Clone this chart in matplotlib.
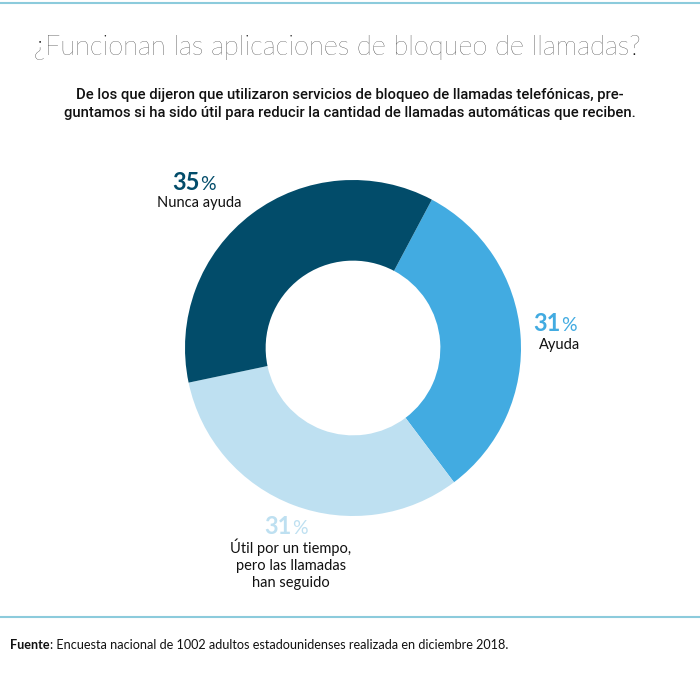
import matplotlib.pyplot as plt
from matplotlib.lines import Line2D

# ================= DATA ===================
labels = ["Ayuda", "Útil por un tiempo,\npero las llamadas\nhan seguido", "Nunca ayuda"]
values = [31, 31, 35]
colors = ["#42abe1", "#bee0f1", "#024c6a"]

title = "¿Funcionan las aplicaciones de bloqueo de llamadas?"
subtitle = ("De los que dijeron que utilizaron servicios de bloqueo de llamadas telefónicas, pre-\n"
            "guntamos si ha sido útil para reducir la cantidad de llamadas automáticas que reciben.")
source = "Encuesta nacional de 1002 adultos estadounidenses realizada en diciembre 2018."

W, H = 700, 677
fig = plt.figure(figsize=(W / 100, H / 100), dpi=100)

def px(x, y):
    return x / W, 1 - y / H

# ================= DONUT ===================
cx, cy, r = 353, 348, 168
ax = fig.add_axes([(cx - r) / W, (H - cy - r) / H, 2 * r / W, 2 * r / H])
ax.pie(values, colors=colors, startangle=62, counterclock=False,
       wedgeprops=dict(width=0.48, edgecolor="none"))
ax.set_xlim(-1, 1)
ax.set_ylim(-1, 1)
ax.set_aspect("equal")
ax.axis("off")

# ================= TEXT ===================
fig.text(*px(337, 47), title, ha="center", va="center", fontsize=19.6,
         family="Lato", fontweight="light", color="#111111")
fig.text(*px(350, 104), subtitle, ha="center", va="center", fontsize=10.6,
         family="Roboto", fontweight="medium", color="#111111", linespacing=1.45)

label_pos = [(560, 324, 346), (291, 527, 546), (199, 183, 204)]
for lab, val, col, (x, yn, yl) in zip(labels, values, colors, label_pos):
    fig.text(*px(x + 1, yn), f"{val}", ha="right", va="center", fontsize=17,
             family="Lato", fontweight="bold", color=col)
    fig.text(*px(x + 1, yn + 1), "%", ha="left", va="center", fontsize=14,
             family="Lato", color=col)
    fig.text(*px(x, yl - 8), lab, ha="center", va="top", fontsize=10.5,
             family="Lato", color="#111111", linespacing=1.3)

# top and bottom rules
for y in (3, 617):
    fig.add_artist(Line2D([0, 1], [1 - y / H] * 2, color="#8ccbdc", lw=1.5))

t = fig.text(*px(10, 645), "Fuente", ha="left", va="center", fontsize=9.1,
             family="Lato", fontweight="bold", color="#111111")
bb = t.get_window_extent(fig.canvas.get_renderer())
fig.text(bb.x1 / W, 1 - 645 / H, ": " + source, ha="left", va="center", fontsize=9.1,
         family="Lato", color="#111111")

fig.savefig("out.png", dpi=100, facecolor="white")
